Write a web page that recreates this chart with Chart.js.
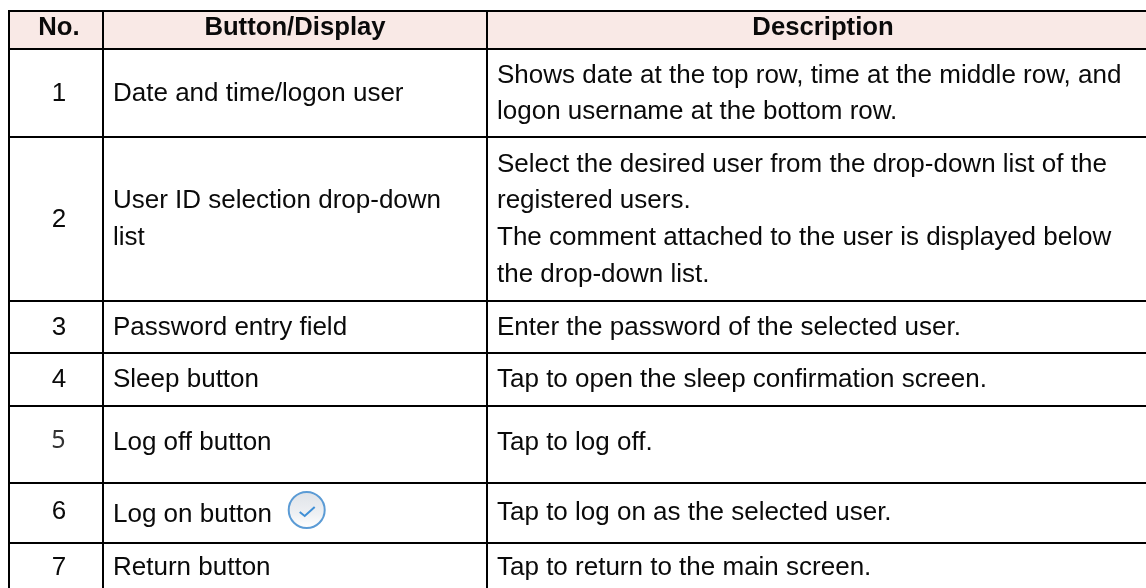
<!DOCTYPE html>
<html><head><meta charset="utf-8">
<style>html,body{margin:0;padding:0;background:#fff}#w{width:1146px;height:588px}</style>
<script src="https://cdn.jsdelivr.net/npm/chart.js@4"></script>
</head><body><div id="w"><canvas id="c"></canvas></div>
<script>
const headers = ["No.", "Button/Display", "Description"];
const numbers = ["1","2","3","4","5","6","7"];
const buttons = [["Date and time/logon user"],["User ID selection drop-down","list"],["Password entry field"],["Sleep button"],["Log off button"],["Log on button"],["Return button"]];
const descriptions = [
 ["Shows date at the top row, time at the middle row, and","logon username at the bottom row."],
 ["Select the desired user from the drop-down list of the","registered users.","The comment attached to the user is displayed below","the drop-down list."],
 ["Enter the password of the selected user."],
 ["Tap to open the sleep confirmation screen."],
 ["Tap to log off."],
 ["Tap to log on as the selected user."],
 ["Tap to return to the main screen."]];
const colEdges = [9,103,487];
const rowEdges = [11,49,137,301,353,406,483,543];
const headerBase = 35;
const numberBase = [101,227,335,387,448,519,575];
const buttonBase = [[101],[208,245],[335],[387],[450],[522],[575]];
const descBase = [[83,119],[172,208,245,282],[335],[387],[450],[520],[575]];
const fontPx = 26;
const tablePlugin = {id:'table',
 beforeDraw(ch){
  const {ctx,scales:{x,y}}=ch; ctx.save(); ctx.fillStyle='#F9E9E6';
  const x0=x.getPixelForValue(colEdges[0]), y0=y.getPixelForValue(rowEdges[0]), y1=y.getPixelForValue(rowEdges[1]);
  ctx.fillRect(x0,y0,ch.width-x0,y1-y0); ctx.restore();
 },
 afterDatasetsDraw(ch){
  const {ctx,scales:{x,y}}=ch; ctx.save(); ctx.fillStyle='#0a0a0a'; ctx.textBaseline='alphabetic';
  const put=(t,px,py,al)=>{ctx.textAlign=al;ctx.fillText(t,x.getPixelForValue(px),y.getPixelForValue(py));};
  ctx.font='bold 25.7px "Liberation Sans"';
  put(headers[0],59,headerBase,'center'); put(headers[1],295,headerBase,'center'); put(headers[2],823,headerBase,'center');
  ctx.font=fontPx+'px "Liberation Sans"';
  numbers.forEach((n,i)=>{
    if(n==='5'){ctx.save();ctx.font='25px "Noto Sans"';ctx.fillStyle='#333';put(n,58.5,numberBase[i],'center');ctx.restore();}
    else put(n,59,numberBase[i],'center');
  });
  buttons.forEach((l,i)=>l.forEach((t,j)=>put(t,113,buttonBase[i][j],'left')));
  descriptions.forEach((l,i)=>l.forEach((t,j)=>put(t,497,descBase[i][j],'left')));
  // icon next to "Log on button"
  const cx=x.getPixelForValue(306.7), cy=y.getPixelForValue(510), r=18;
  const g=ctx.createLinearGradient(cx,cy-r,cx,cy+r); g.addColorStop(0,'#dfe3e8'); g.addColorStop(0.6,'#eef0f3'); g.addColorStop(1,'#ffffff');
  ctx.beginPath(); ctx.arc(cx,cy,r,0,Math.PI*2); ctx.fillStyle=g; ctx.fill();
  ctx.lineWidth=2; ctx.strokeStyle='#5b9bd5'; ctx.stroke();
  ctx.beginPath(); ctx.moveTo(cx-7,cy+2); ctx.lineTo(cx-2,cy+6); ctx.lineTo(cx+8,cy-3); ctx.strokeStyle='#3f8fd6'; ctx.stroke();
  ctx.restore();
 }};
const grid={color:'#000',lineWidth:2,drawTicks:false};
new Chart(document.getElementById('c'),{type:'scatter',
 data:{datasets:[{data:[],pointRadius:0}]},
 options:{responsive:true,maintainAspectRatio:false,animation:false,
  layout:{padding:{left:8,top:10,right:0,bottom:0}},
  plugins:{legend:{display:false},tooltip:{enabled:false}},
  scales:{
   x:{type:'linear',min:8,max:1146,position:'top',grid,border:{display:false},ticks:{display:false},afterBuildTicks(a){a.ticks=colEdges.map(v=>({value:v}));}},
   y:{type:'linear',min:10,max:588,reverse:true,grid,border:{display:false},ticks:{display:false},afterBuildTicks(a){a.ticks=rowEdges.map(v=>({value:v}));}}
  }},
 plugins:[tablePlugin]});
</script></body></html>
